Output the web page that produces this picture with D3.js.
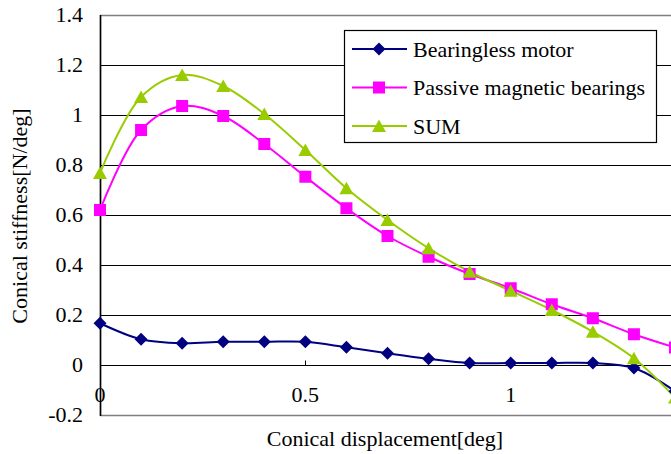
<!DOCTYPE html>
<html>
<head>
<meta charset="utf-8">
<script src="https://cdn.jsdelivr.net/npm/d3@7"></script>
<style>
  html, body { margin: 0; padding: 0; background: #fff; }
  svg { display: block; }
  text { font-family: "Liberation Serif", "Times New Roman", serif; fill: #000; }
</style>
</head>
<body>
<svg id="chart" width="671" height="454"></svg>
<script>
// Conical displacement [deg]
const displacement = [0, 0.1, 0.2, 0.3, 0.4, 0.5, 0.6, 0.7, 0.8, 0.9, 1.0, 1.1, 1.2, 1.3, 1.4];

// Conical stiffness [N/deg] per source
const bearinglessMotor = [0.167, 0.103, 0.087, 0.093, 0.093, 0.093, 0.071, 0.047, 0.025, 0.008, 0.008, 0.008, 0.008, -0.012, -0.105];
const passiveBearings  = [0.62, 0.94, 1.036, 0.996, 0.884, 0.753, 0.627, 0.516, 0.433, 0.364, 0.307, 0.243, 0.187, 0.123, 0.07];
const sumStiffness     = [0.768, 1.072, 1.16, 1.116, 1.004, 0.86, 0.707, 0.58, 0.467, 0.373, 0.297, 0.22, 0.133, 0.027, -0.13];

const seriesNames = ["Bearingless motor", "Passive magnetic bearings", "SUM"];

// Axis ticks
const yTicks = [-0.2, 0, 0.2, 0.4, 0.6, 0.8, 1, 1.2, 1.4];
const yTickLabels = ["-0.2", "0", "0.2", "0.4", "0.6", "0.8", "1", "1.2", "1.4"];
const xTicks = [0, 0.5, 1];
const xTickLabels = ["0", "0.5", "1"];

const xTitle = "Conical displacement[deg]";
const yTitle = "Conical stiffness[N/deg]";

// ---- layout ----
const svg = d3.select("#chart");
const plot = { left: 100, top: 15, right: 675, bottom: 415 };
const fontSize = 22;

const x = d3.scaleLinear().domain([0, 1.4]).range([plot.left, plot.right]);
const y = d3.scaleLinear().domain([-0.2, 1.4]).range([plot.bottom, plot.top]);

const series = [
  { name: seriesNames[0], values: bearinglessMotor, color: "#000080", marker: "diamond" },
  { name: seriesNames[1], values: passiveBearings,  color: "#FF00FF", marker: "square" },
  { name: seriesNames[2], values: sumStiffness,     color: "#99CC00", marker: "triangle" }
];

// plot-area frame (grey)
svg.append("rect")
  .attr("x", plot.left + 0.5).attr("y", plot.top + 0.5)
  .attr("width", plot.right - plot.left).attr("height", plot.bottom - plot.top)
  .attr("fill", "none").attr("stroke", "#808080").attr("stroke-width", 1.5);

// horizontal gridlines
svg.append("g").selectAll("line")
  .data(yTicks.filter(v => v > -0.2 && v < 1.4))
  .join("line")
  .attr("x1", plot.left).attr("x2", plot.right + 10)
  .attr("y1", d => Math.round(y(d)) + 0.5).attr("y2", d => Math.round(y(d)) + 0.5)
  .attr("stroke", "#000").attr("stroke-width", 1.2);

// y axis line
svg.append("line")
  .attr("x1", plot.left + 0.5).attr("x2", plot.left + 0.5)
  .attr("y1", plot.top).attr("y2", plot.bottom + 1)
  .attr("stroke", "#000").attr("stroke-width", 1.5);

// x axis sits on y = 0, with short inward ticks
const xAxisY = Math.round(y(0)) + 0.5;
svg.append("g").selectAll("line")
  .data(xTicks)
  .join("line")
  .attr("x1", d => Math.round(x(d)) + 0.5).attr("x2", d => Math.round(x(d)) + 0.5)
  .attr("y1", xAxisY - 5).attr("y2", xAxisY)
  .attr("stroke", "#000").attr("stroke-width", 1);

// y tick labels
svg.append("g").selectAll("text")
  .data(yTicks)
  .join("text")
  .attr("x", 83)
  .attr("y", d => y(d) + 7)
  .attr("text-anchor", "end")
  .attr("font-size", fontSize)
  .text((d, i) => yTickLabels[i]);

// x tick labels
svg.append("g").selectAll("text")
  .data(xTicks)
  .join("text")
  .attr("x", d => x(d))
  .attr("y", 402)
  .attr("text-anchor", "middle")
  .attr("font-size", fontSize)
  .text((d, i) => xTickLabels[i]);

// axis titles
svg.append("text")
  .attr("x", 385).attr("y", 446)
  .attr("text-anchor", "middle")
  .attr("font-size", fontSize)
  .text(xTitle);

svg.append("text")
  .attr("transform", "translate(27,216) rotate(-90)")
  .attr("text-anchor", "middle")
  .attr("font-size", fontSize)
  .text(yTitle);

// marker shapes, centred on the data point
const markerShapes = {
  diamond: "M0,-6.5L6.5,0L0,6.5L-6.5,0Z",
  square: "M-6,-6H6V6H-6Z",
  triangle: "M0,-6.5L7,6L-7,6Z"
};
function drawMarker(g, kind, cx, cy, color) {
  g.append("path")
    .attr("transform", `translate(${cx},${cy})`)
    .attr("d", markerShapes[kind])
    .attr("fill", color);
}

// smoothed series lines
const line = d3.line()
  .x((d, i) => x(displacement[i]))
  .y(d => y(d))
  .curve(d3.curveCatmullRom.alpha(0.5));

const seriesG = svg.append("g");
series.forEach(s => {
  seriesG.append("path")
    .attr("d", line(s.values))
    .attr("fill", "none")
    .attr("stroke", s.color)
    .attr("stroke-width", 2);
});
series.forEach(s => {
  const g = seriesG.append("g");
  s.values.forEach((v, i) => drawMarker(g, s.marker, x(displacement[i]), y(v), s.color));
});

// legend
const legend = svg.append("g");
legend.append("rect")
  .attr("x", 344.5).attr("y", 30.5).attr("width", 312).attr("height", 112)
  .attr("fill", "#fff").attr("stroke", "#000").attr("stroke-width", 1.2);

series.forEach((s, i) => {
  const ry = 49 + i * 38.5;
  legend.append("line")
    .attr("x1", 352).attr("x2", 407).attr("y1", ry).attr("y2", ry)
    .attr("stroke", s.color).attr("stroke-width", 2);
  drawMarker(legend, s.marker, 379, ry, s.color);
  legend.append("text")
    .attr("x", 413).attr("y", ry + 7.5)
    .attr("font-size", fontSize)
    .text(s.name);
});
</script>
</body>
</html>
